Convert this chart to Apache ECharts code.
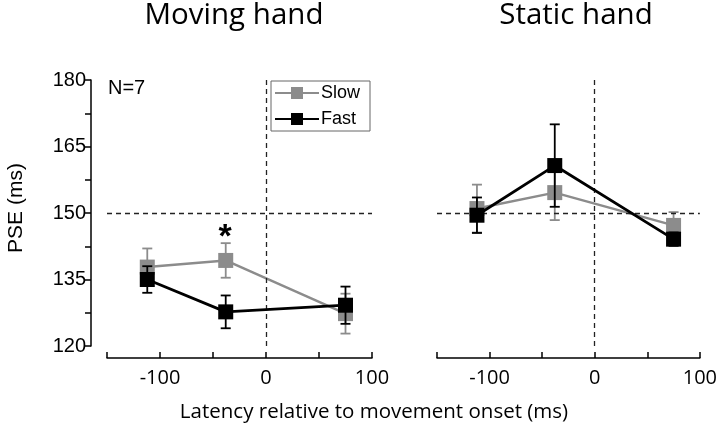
<!DOCTYPE html>
<html><head><meta charset="utf-8">
<script src="https://cdn.jsdelivr.net/npm/echarts@6/dist/echarts.min.js"></script>
<style>html,body{margin:0;padding:0;background:#fff}#c{width:720px;height:431px}</style>
</head><body><div id="c"></div>
<script>
// Latencies (ms) relative to movement onset
const latencies = [-112, -38, 75];
// Moving hand panel
const movingSlow = [137.8, 139.3, 127.3];
const movingSlowErr = [4.2, 3.9, 4.5];
const movingFast = [135.0, 127.7, 129.2];
const movingFastErr = [3.0, 3.7, 4.2];
// Static hand panel
const staticSlow = [151.0, 154.6, 147.2];
const staticSlowErr = [5.4, 6.2, 3.0];
const staticFast = [149.5, 160.7, 144.1];
const staticFastErr = [4.0, 9.3, 1.5];
const xTickLabels = [-100, 0, 100];
const yTickLabels = [120, 135, 150, 165, 180];
const panelTitles = ['Moving hand', 'Static hand'];

const GRAY = '#8c8c8c', BLACK = '#000';
const chart = echarts.init(document.getElementById('c'), null, {renderer: 'canvas'});

function pts(vals) { return latencies.map((x, i) => [x, vals[i]]); }
function errData(vals, errs) { return latencies.map((x, i) => [x, vals[i] - errs[i], vals[i] + errs[i]]); }

function errSeries(idx, vals, errs, color, z) {
  return {
    type: 'custom', xAxisIndex: idx, yAxisIndex: idx, z: z, silent: true,
    data: errData(vals, errs),
    encode: {x: 0, y: [1, 2]},
    renderItem: function (params, api) {
      const x = api.value(0);
      const lo = api.coord([x, api.value(1)]);
      const hi = api.coord([x, api.value(2)]);
      const w = 5;
      const st = {stroke: color, lineWidth: 1.8};
      return {type: 'group', children: [
        {type: 'line', shape: {x1: lo[0], y1: lo[1], x2: hi[0], y2: hi[1]}, style: st},
        {type: 'line', shape: {x1: lo[0] - w, y1: lo[1], x2: lo[0] + w, y2: lo[1]}, style: st},
        {type: 'line', shape: {x1: hi[0] - w, y1: hi[1], x2: hi[0] + w, y2: hi[1]}, style: st}
      ]};
    }
  };
}
function lineSeries(idx, name, vals, color, width, z) {
  return {
    type: 'line', name: name, xAxisIndex: idx, yAxisIndex: idx, z: z,
    data: pts(vals), symbol: 'rect', symbolSize: 15, showSymbol: true,
    lineStyle: {color: color, width: width}, itemStyle: {color: color},
    emphasis: {disabled: true}, animation: false
  };
}
function refSeries(idx) {
  return {
    type: 'line', xAxisIndex: idx, yAxisIndex: idx, z: 1, data: [], silent: true,
    markLine: {
      silent: true, symbol: 'none', animation: false, label: {show: false},
      lineStyle: {color: '#222', width: 1.3, type: [5, 4]},
      data: [{yAxis: 150}, {xAxis: 0}]
    }
  };
}

const gridLefts = [107, 437];
const titleCenters = [229, 571];
const xAxes = gridLefts.map((l, i) => ({
  gridIndex: i, type: 'value', min: -150, max: 100, interval: 50, offset: 12,
  axisLine: {show: true, onZero: false, lineStyle: {color: '#000', width: 1.5}},
  axisTick: {show: true, inside: true, length: 6, lineStyle: {color: '#000', width: 1.5}},
  axisLabel: {color: '#000', fontSize: 20, fontFamily: 'Open Sans', margin: 10,
    formatter: v => xTickLabels.indexOf(v) >= 0 ? String(v) : ''},
  splitLine: {show: false}
}));
const yAxes = gridLefts.map((l, i) => ({
  gridIndex: i, type: 'value', min: 120, max: 180, interval: 7.5, offset: 16,
  show: i === 0,
  axisLine: {show: true, onZero: false, lineStyle: {color: '#000', width: 1.5}},
  axisTick: {show: true, length: 6, lineStyle: {color: '#000', width: 1.5}},
  axisLabel: {color: '#000', fontSize: 20, fontFamily: 'Liberation Sans', margin: 5,
    formatter: v => yTickLabels.indexOf(v) >= 0 ? String(v) : ''},
  splitLine: {show: false}
}));

chart.setOption({
  animation: false,
  backgroundColor: '#fff',
  title: panelTitles.map((t, i) => ({
    text: t, left: titleCenters[i], top: -4, textAlign: 'center',
    textStyle: {fontFamily: 'Open Sans', fontSize: 29.5, fontWeight: 'normal', color: '#000'}
  })),
  grid: gridLefts.map(l => ({left: l, top: 80, width: 265, height: 266})),
  xAxis: xAxes,
  yAxis: yAxes,
  legend: {
    data: ['Slow', 'Fast'], orient: 'vertical', left: 271, top: 81,
    itemWidth: 44, itemHeight: 15, itemGap: 8,
    padding: [3, 10, 3, 3], borderColor: '#666', borderWidth: 1,
    textStyle: {fontFamily: 'Liberation Sans', fontSize: 18, color: '#000', padding: [0, 0, 0, -3]},
    selectedMode: false
  },
  graphic: [
    {type: 'text', left: 108, top: 78, style: {text: 'N=7', font: '20px "Liberation Sans"', fill: '#000'}},
    {type: 'text', x: 225, y: 238, style: {text: '*', font: 'bold 34px "Liberation Sans"', fill: '#000', textAlign: 'center', textVerticalAlign: 'middle'}},
    {type: 'text', x: 16, y: 208, rotation: Math.PI / 2, style: {text: 'PSE (ms)', font: '21px "Liberation Sans"', fill: '#000', textAlign: 'center', textVerticalAlign: 'middle'}},
    {type: 'text', x: 374, y: 412, style: {text: 'Latency relative to movement onset (ms)', font: '20.5px "Open Sans"', fill: '#000', textAlign: 'center', textVerticalAlign: 'middle'}}
  ],
  series: [
    refSeries(0), refSeries(1),
    errSeries(0, movingSlow, movingSlowErr, GRAY, 2),
    lineSeries(0, 'Slow', movingSlow, GRAY, 2.5, 3),
    errSeries(0, movingFast, movingFastErr, BLACK, 4),
    lineSeries(0, 'Fast', movingFast, BLACK, 2.8, 5),
    errSeries(1, staticSlow, staticSlowErr, GRAY, 2),
    lineSeries(1, 'Slow', staticSlow, GRAY, 2.5, 3),
    errSeries(1, staticFast, staticFastErr, BLACK, 4),
    lineSeries(1, 'Fast', staticFast, BLACK, 2.8, 5)
  ]
});
</script></body></html>
